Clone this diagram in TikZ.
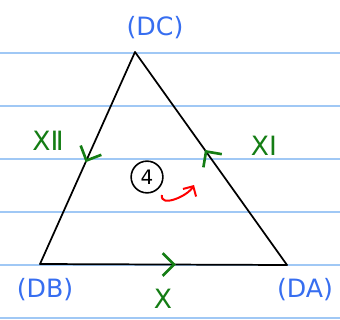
\documentclass[tikz,border=0pt]{standalone}
\usepackage{fontspec}
\setsansfont{DejaVu Sans}
\usetikzlibrary{arrows.meta,decorations.markings}
\definecolor{rule}{RGB}{160,200,245}
\definecolor{vlbl}{RGB}{55,110,240}
\definecolor{orient}{RGB}{20,125,20}
\tikzset{
  vertexlbl/.style={text=vlbl, font=\sffamily\fontsize{19}{21}\selectfont, inner sep=1pt},
  edgelbl/.style={text=orient, font=\sffamily\fontsize{20}{22}\selectfont, inner sep=1pt},
  edge/.style={draw=black, line width=1.3pt, line cap=round},
  orientmark/.style={postaction={decorate, decoration={markings,
    mark=at position #1 with {\arrow[orient, line width=2pt]{Straight Barb[length=3mm, width=6mm]}}}}},
  facelbl/.style={draw=black, circle, line width=1.2pt, minimum size=8.4mm, inner sep=0pt,
    font=\sffamily\fontsize{15}{17}\selectfont}
}
\begin{document}
\begin{tikzpicture}[x=0.0264583cm, y=-0.0264583cm]
  \useasboundingbox (0,0) rectangle (340,320);
  % ruled paper
  \foreach \yy in {53,106,159,212,265,318}
    \draw[rule, line width=1.3pt] (0,\yy) -- (340,\yy);

  \coordinate (DC) at (135,52);
  \coordinate (DB) at (40,264);
  \coordinate (DA) at (287,265);

  \draw[edge, orientmark=0.52] (DC) -- (DB);
  \draw[edge, orientmark=0.54] (DA) -- (DC);
  \draw[edge, orientmark=0.55] (DB) -- (DA);

  \node[vertexlbl] (lDC) at (155,28) {(DC)};
  \node[vertexlbl] (lDB) at (45,290) {(DB)};
  \node[vertexlbl] (lDA) at (305,290) {(DA)};

  \node[edgelbl] (lx2) at (48,141) {XⅡ};
  \node[edgelbl] (lx1) at (264,146) {XⅠ};
  \node[edgelbl] (lx) at (163,299) {X};

  \node[facelbl] (face) at (147,177) {4};

  \coordinate (rs) at (162,195);
  \coordinate (re) at (194,185);
  \draw[red, line width=1.5pt, -{Straight Barb[length=2mm, width=4mm]}] (rs) to[out=-100, in=-120] (re);
\end{tikzpicture}
\end{document}
